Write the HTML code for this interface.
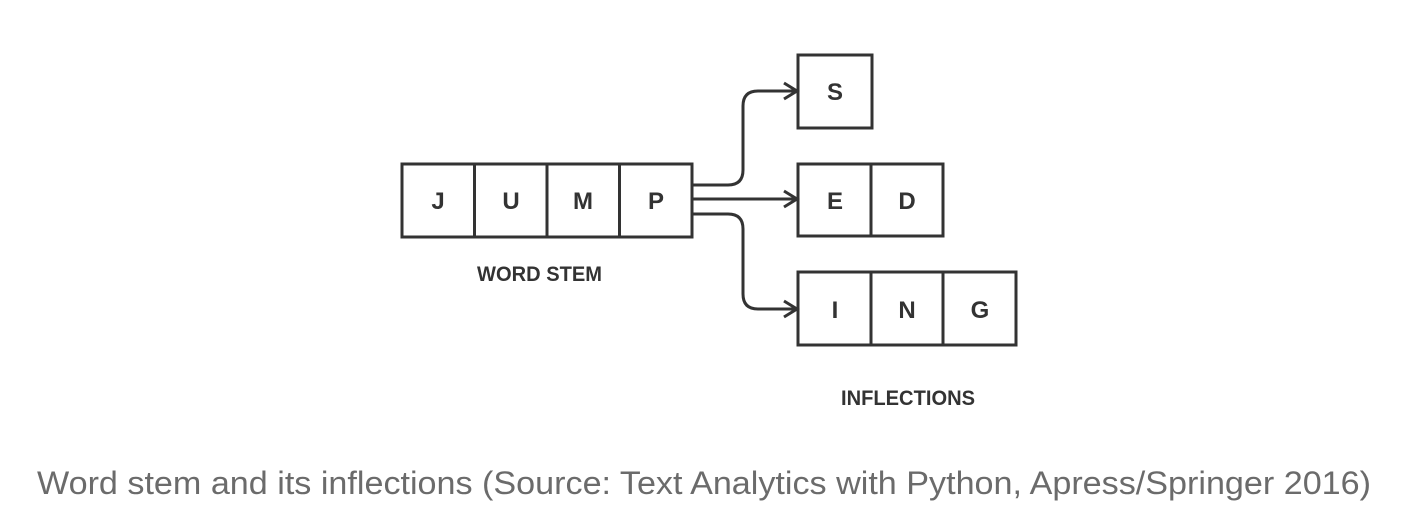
<!DOCTYPE html>
<html><head><meta charset="utf-8"><style>
html,body{margin:0;padding:0;background:#fff;}
svg{display:block;}
</style></head><body>
<svg width="1414" height="526" viewBox="0 0 1414 526" xmlns="http://www.w3.org/2000/svg">
<rect width="1414" height="526" fill="#fff"/>
<g fill="none" stroke="#333" stroke-width="3">
  <rect x="402" y="164" width="290" height="73"/>
  <line x1="474.5" y1="164" x2="474.5" y2="237"/>
  <line x1="547" y1="164" x2="547" y2="237"/>
  <line x1="619.5" y1="164" x2="619.5" y2="237"/>
  <rect x="798" y="55" width="74" height="73"/>
  <rect x="798" y="164" width="145" height="72"/>
  <line x1="871" y1="164" x2="871" y2="236"/>
  <rect x="798" y="272" width="218" height="73"/>
  <line x1="871" y1="272" x2="871" y2="345"/>
  <line x1="943" y1="272" x2="943" y2="345"/>
  <path d="M692 185 H728 Q743 185 743 170 V106 Q743 91 758 91 H796"/>
  <path d="M692 199 H796"/>
  <path d="M692 214 H728 Q743 214 743 229 V294 Q743 309 758 309 H796"/>
  <path d="M784 83 L797 91 L784 99" stroke-linejoin="miter"/>
  <path d="M784 191 L797 199 L784 207"/>
  <path d="M784 301 L797 309 L784 317"/>
</g>
<g font-family="Liberation Sans, sans-serif" font-size="24" font-weight="bold" fill="#333" text-anchor="middle">
  <text x="438" y="209">J</text>
  <text x="511" y="209">U</text>
  <text x="583" y="209">M</text>
  <text x="656" y="209">P</text>
  <text x="835" y="100">S</text>
  <text x="835" y="209">E</text>
  <text x="907" y="209">D</text>
  <text x="835" y="318">I</text>
  <text x="907" y="318">N</text>
  <text x="980" y="318">G</text>
</g>
<g font-family="Liberation Sans, sans-serif" font-size="21" font-weight="bold" fill="#333">
  <text x="477" y="281" textLength="125" lengthAdjust="spacingAndGlyphs">WORD STEM</text>
  <text x="841" y="405" textLength="134" lengthAdjust="spacingAndGlyphs">INFLECTIONS</text>
</g>
<text x="37" y="494" font-family="Liberation Sans, sans-serif" font-size="32" fill="#6b6b6b" textLength="1334" lengthAdjust="spacingAndGlyphs">Word stem and its inflections (Source: Text Analytics with Python, Apress/Springer 2016)</text>
</svg>
</body></html>
